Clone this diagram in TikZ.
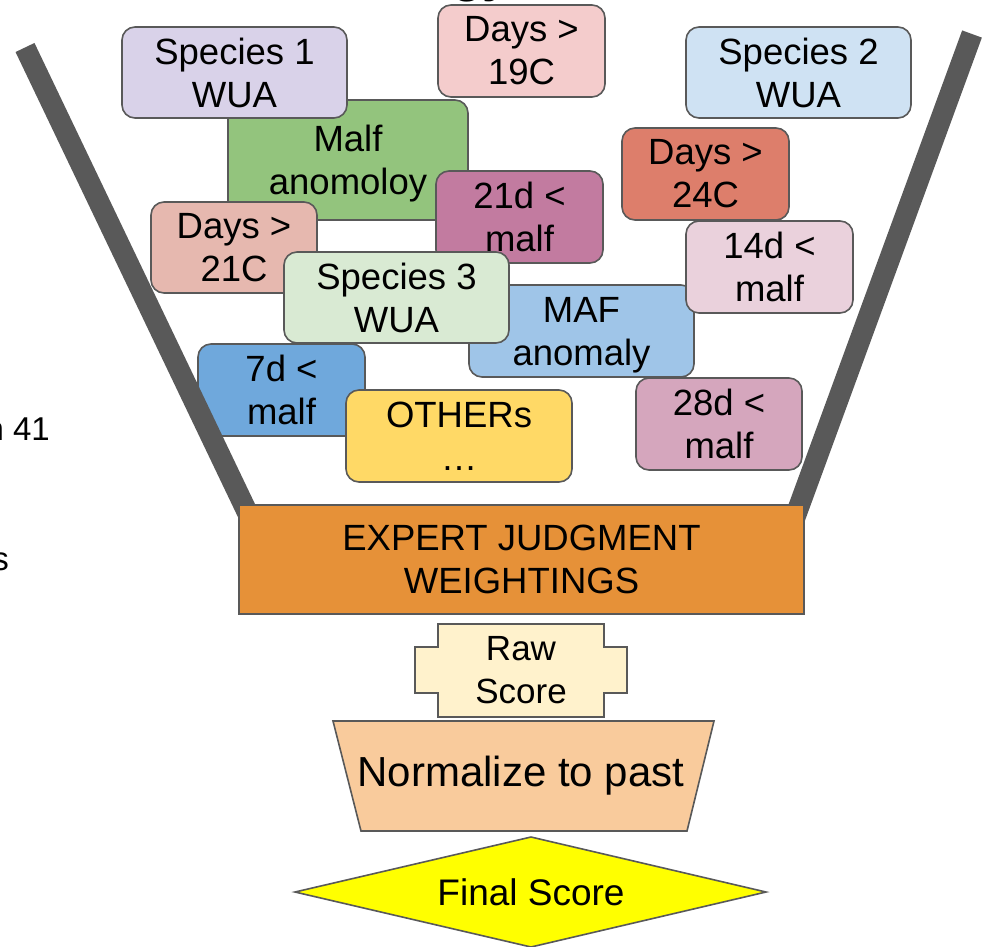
\documentclass[tikz,border=0pt]{standalone}
\usepackage{fontspec}
\setmainfont{Liberation Sans}
\definecolor{edge}{HTML}{595959}
\definecolor{cSpA}{HTML}{D9D2E9}
\definecolor{cDA}{HTML}{F4CCCC}
\definecolor{cSpB}{HTML}{CFE2F3}
\definecolor{cMalf}{HTML}{93C47D}
\definecolor{cDB}{HTML}{DD7E6B}
\definecolor{cMA}{HTML}{C27BA0}
\definecolor{cDC}{HTML}{E6B8AF}
\definecolor{cMB}{HTML}{EAD1DC}
\definecolor{cSpC}{HTML}{D9EAD3}
\definecolor{cMaf}{HTML}{9FC5E8}
\definecolor{cMC}{HTML}{6FA8DC}
\definecolor{cOth}{HTML}{FFD966}
\definecolor{cMD}{HTML}{D5A6BD}
\definecolor{cExp}{HTML}{E69138}
\definecolor{cRaw}{HTML}{FFF2CC}
\definecolor{cNorm}{HTML}{F9CB9C}
\definecolor{cFin}{HTML}{FFFF00}
\begin{document}
\begin{tikzpicture}[x=1pt,y=-1pt,
  card/.style={draw=edge, line width=1.6pt, rounded corners=13pt, inner sep=0pt,
    align=center, font=\fontsize{36.5}{43}\selectfont},
  plainbox/.style={draw=edge, line width=1.6pt, inner sep=0pt, align=center,
    font=\fontsize{36.5}{43}\selectfont},
  shapeline/.style={draw=edge, line width=1.6pt, line join=miter},
  txt/.style={inner sep=0pt, align=center, font=\fontsize{36.5}{43}\selectfont},
  funnel/.style={draw=edge, line width=21pt, line cap=butt}]
\useasboundingbox (0,0) rectangle (984,946);

% cut-off texts at the edges
\node[inner sep=0pt, anchor=base west, font=\fontsize{50}{60}\selectfont\bfseries] (ttl) at (452,-9) {gy};
\node[inner sep=0pt, anchor=base east, font=\fontsize{33}{40}\selectfont] (lefta) at (50,440) {n 41};
\node[inner sep=0pt, anchor=base east, font=\fontsize{33}{40}\selectfont] (leftb) at (9,570) {s};

% cards
\node[card, fill=cMalf, minimum width=240pt, minimum height=120pt] (malf) at (348,160) {Malf\\\smash{anomoloy}};
\node[card, fill=cSpA, minimum width=225pt, minimum height=91pt] (spa) at (234.5,72.5) {Species 1\\WUA};
\node[card, fill=cDA, minimum width=167pt, minimum height=92pt] (dayA) at (521.5,51) {Days >\\19C};
\node[card, fill=cSpB, minimum width=225pt, minimum height=91pt] (spb) at (798.5,72.5) {Species 2\\WUA};
\node[card, fill=cDB, minimum width=167pt, minimum height=92pt] (dayB) at (705.5,174) {Days >\\24C};
\node[card, fill=cMA, minimum width=167pt, minimum height=92pt] (mA) at (519.5,217) {21d <\\malf};
\node[card, fill=cDC, minimum width=166pt, minimum height=91pt] (dayC) at (234,247.5) {Days >\\21C};
\node[card, fill=cMaf, minimum width=225pt, minimum height=92pt] (maf) at (581.5,331) {MAF\\\smash{anomaly}};
\node[card, fill=cSpC, minimum width=225pt, minimum height=91pt] (spc) at (396.5,297.5) {Species 3\\WUA};
\node[card, fill=cMB, minimum width=167pt, minimum height=92pt] (mB) at (769.5,267) {14d <\\malf};
\node[card, fill=cMC, minimum width=167pt, minimum height=92pt] (mC) at (281.5,390) {7d <\\malf};
\node[card, fill=cOth, minimum width=226pt, minimum height=92pt] (oth) at (459,436) {OTHERs\\…};
\node[card, fill=cMD, minimum width=166pt, minimum height=92pt] (mD) at (719,424) {28d <\\malf};

% funnel walls
\coordinate (flt) at (25,47.5);
\coordinate (flb) at (251,520);
\coordinate (frt) at (972,34);
\coordinate (frb) at (794,520);
\draw[funnel] (flt) -- (flb);
\draw[funnel] (frt) -- (frb);

% expert judgment
\node[plainbox, fill=cExp, minimum width=565pt, minimum height=109pt] (exp) at (521.5,559.5) {EXPERT JUDGMENT\\WEIGHTINGS};

% raw score
\path[shapeline, fill=cRaw] (438,624) -- (604,624) -- (604,647) -- (627,647) -- (627,693) -- (604,693)
  -- (604,717) -- (438,717) -- (438,693) -- (415,693) -- (415,647) -- (438,647) -- cycle;
\node[txt, font=\fontsize{35}{43}\selectfont] (raw) at (521,670.5) {Raw\\Score};

% normalize
\path[shapeline, fill=cNorm] (333,721) -- (714,721) -- (687,831) -- (361,831) -- cycle;
\node[txt, font=\fontsize{42}{48}\selectfont] (norm) at (521,776) {Normalize to past};

% final score
\path[shapeline, fill=cFin] (295,892) -- (531,837) -- (766,892) -- (531,947) -- cycle;
\node[txt, font=\fontsize{37}{43}\selectfont] (fin) at (531,892) {Final Score};
\end{tikzpicture}
\end{document}
